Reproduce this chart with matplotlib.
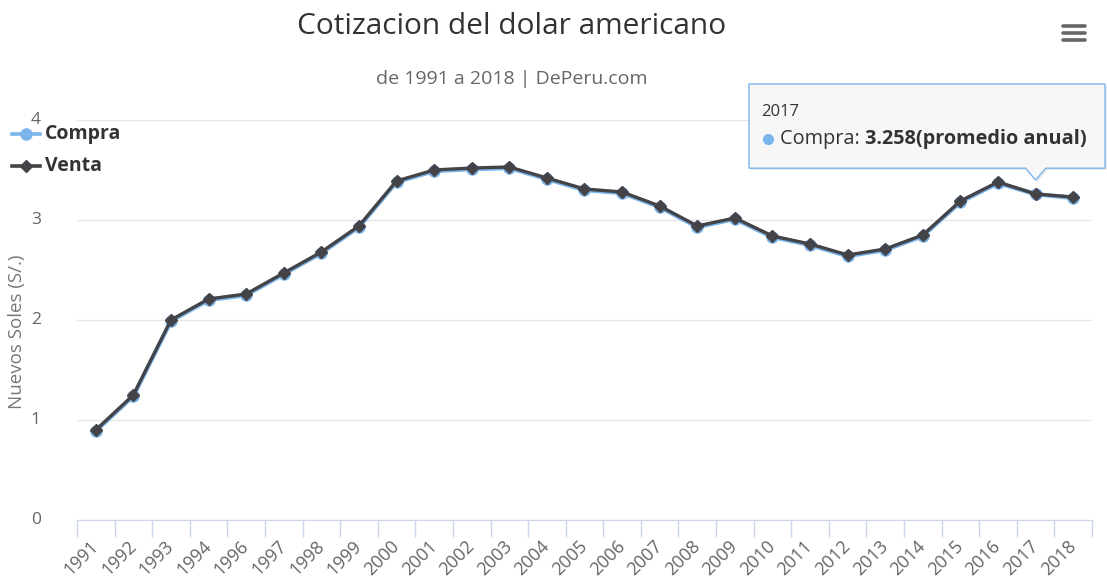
import matplotlib
matplotlib.use("Agg")
import matplotlib.pyplot as plt
from matplotlib.lines import Line2D
from matplotlib.patches import Polygon

# Datos (promedio anual, soles por dolar)
years = ["1991", "1992", "1993", "1994", "1996", "1997", "1998", "1999",
         "2000", "2001", "2002", "2003", "2004", "2005", "2006", "2007",
         "2008", "2009", "2010", "2011", "2012", "2013", "2014", "2015",
         "2016", "2017", "2018"]
compra = [0.89, 1.24, 1.99, 2.20, 2.25, 2.46, 2.67, 2.93, 3.38, 3.49,
          3.51, 3.52, 3.41, 3.30, 3.27, 3.13, 2.93, 3.01, 2.83, 2.75,
          2.64, 2.70, 2.84, 3.18, 3.37, 3.258, 3.22]
venta = [0.90, 1.25, 2.00, 2.21, 2.26, 2.47, 2.68, 2.94, 3.39, 3.50,
         3.52, 3.53, 3.42, 3.31, 3.28, 3.14, 2.94, 3.02, 2.84, 2.76,
         2.65, 2.71, 2.85, 3.19, 3.38, 3.26, 3.23]
yticks = [0, 1, 2, 3, 4]

W, H = 1107, 588
BLUE = "#7cb5ec"
DARK = "#434348"
FONT = "Open Sans"


def fx(px):
    return px / W


def fy(py):
    return 1 - py / H


fig = plt.figure(figsize=(W / 100, H / 100), dpi=100)
fig.patch.set_facecolor("white")

ax = fig.add_axes([fx(77), fy(520), fx(1092) - fx(77), fy(120) - fy(520)])
x = list(range(len(years)))

ax.plot(x, compra, color=BLUE, lw=3.2, marker="o", ms=8, mec=BLUE,
        mfc=BLUE, zorder=2)
ax.plot(x, venta, color=DARK, lw=2.4, marker="D", ms=6.5, mec=DARK,
        mfc=DARK, zorder=3)

ax.set_xlim(-0.5, len(years) - 0.5)
ax.set_ylim(0, 4)
ax.set_yticks(yticks)
ax.set_yticklabels([str(v) for v in yticks], fontsize=12.5, color="#666666",
                   family=FONT)
ax.grid(axis="y", color="#e6e6e6", lw=1)
ax.tick_params(axis="y", length=0, pad=26)
for lab in ax.get_yticklabels():
    lab.set_va("center")

# ticks en los bordes de categoria, etiquetas en el centro
ax.set_xticks([i - 0.5 for i in range(len(years) + 1)])
ax.set_xticklabels([])
ax.tick_params(axis="x", which="major", length=12, color="#ccd6eb", width=1)
ax.set_xticks(x, minor=True)
ax.set_xticklabels(years, minor=True, fontsize=13, color="#666666",
                   family=FONT)
ax.tick_params(axis="x", which="minor", length=0, pad=17)
for lab in ax.get_xticklabels(minor=True):
    lab.set_rotation(45)
    lab.set_ha("right")
    lab.set_va("center")
    lab.set_rotation_mode("anchor")

for s in ["top", "right", "left"]:
    ax.spines[s].set_visible(False)
ax.spines["bottom"].set_color("#ccd6eb")
ax.set_axisbelow(True)

ax.set_ylabel("Nuevos Soles (S/.)", fontsize=13.5, color="#777777",
              family=FONT)
ax.yaxis.set_label_coords(-0.050, 0.47)

fig.text(fx(512), fy(26), "Cotizacion del dolar americano", ha="center",
         va="center", fontsize=21.5, color="#333333", family=FONT)
fig.text(fx(512), fy(79), "de 1991 a 2018 | DePeru.com", ha="center",
         va="center", fontsize=14, color="#666666", family=FONT)

# leyenda
for ypx, label, col, mk, ms in [(134, "Compra", BLUE, "o", 8),
                                (166, "Venta", DARK, "D", 6.5)]:
    fig.add_artist(Line2D([fx(12), fx(40)], [fy(ypx), fy(ypx)], color=col,
                          lw=2.6))
    fig.add_artist(Line2D([fx(26)], [fy(ypx)], color=col, marker=mk, ms=ms))
    fig.text(fx(45), fy(ypx), label, ha="left", va="center", fontsize=14,
             fontweight="bold", color="#333333", family=FONT)

# icono de menu
for ypx in (26, 33, 40):
    fig.add_artist(Line2D([fx(1063), fx(1085)], [fy(ypx), fy(ypx)],
                          color="#666666", lw=2.6, solid_capstyle="round"))

# tooltip anclado al punto 2017
i17 = years.index("2017")
fig.canvas.draw()
tip = ax.transData.transform((i17, compra[i17]))
tip_px = (tip[0], H - tip[1])
tx, ty = tip_px[0], tip_px[1] - 14
left, right, top, bottom = 749, 1105, 84, ty - 12
pts = [(left, top), (right, top), (right, bottom), (tx + 10, bottom),
       (tx, ty), (tx - 10, bottom), (left, bottom)]
shadow = Polygon([(fx(p[0] + 2), fy(p[1] + 2)) for p in pts], closed=True,
                 transform=fig.transFigure, facecolor="#000000", alpha=0.08,
                 edgecolor="none", zorder=9)
box = Polygon([(fx(p[0]), fy(p[1])) for p in pts], closed=True,
              transform=fig.transFigure, facecolor="#f7f7f7",
              edgecolor=BLUE, lw=1, zorder=10)
fig.add_artist(shadow)
fig.add_artist(box)
fig.text(fx(761), fy(112), years[i17], ha="left", va="center", fontsize=12,
         color="#333333", family=FONT, zorder=11)
fig.add_artist(Line2D([fx(768)], [fy(139)], marker="o", ms=7, color=BLUE,
                      zorder=11))
t1 = fig.text(fx(780), fy(139), "Compra: ", ha="left", va="center",
              fontsize=14.3, color="#333333", family=FONT, zorder=11)
fig.canvas.draw()
bb = t1.get_window_extent()
fig.text(bb.x1 / W, fy(139), f"{compra[i17]:.3f}(promedio anual)",
         ha="left", va="center", fontsize=14.3, fontweight="bold",
         color="#333333", family=FONT, zorder=11)

fig.savefig("out.png", dpi=100, facecolor="white")
